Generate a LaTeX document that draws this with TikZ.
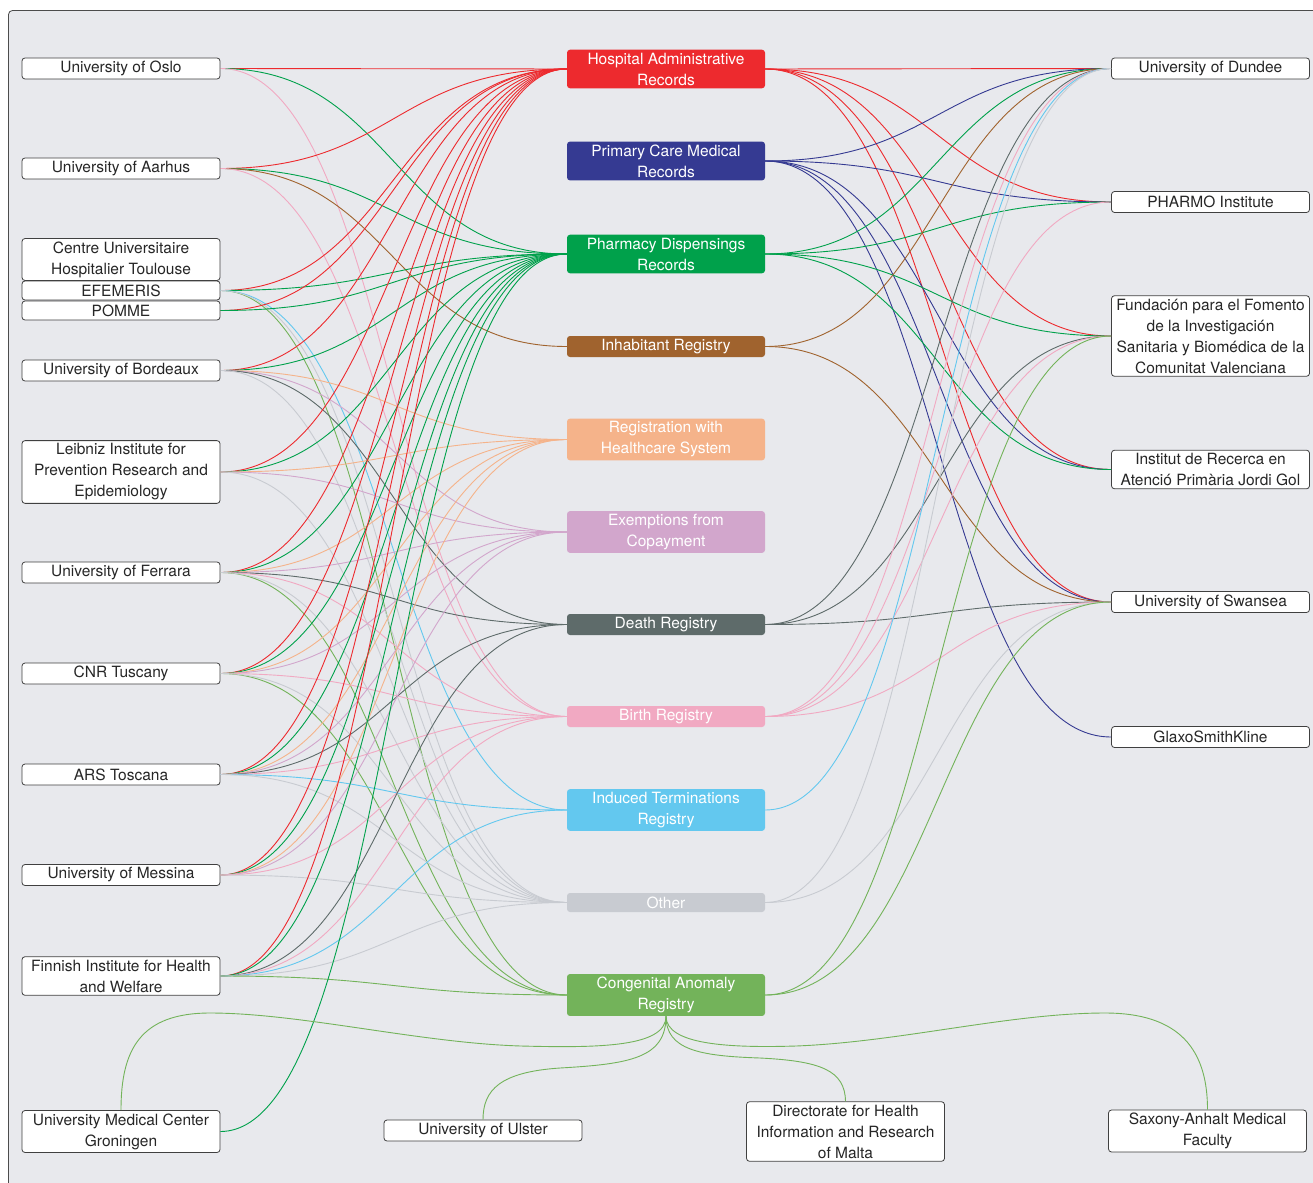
\documentclass[tikz,border=0pt]{standalone}
\usepackage{fontspec}
\setmainfont{TeX Gyre Heros}
\definecolor{bg}{RGB}{232,233,237}
\definecolor{hosp}{RGB}{237,42,46}
\definecolor{prim}{RGB}{53,58,146}
\definecolor{pharm}{RGB}{0,161,75}
\definecolor{inhab}{RGB}{160,99,46}
\definecolor{regis}{RGB}{245,179,138}
\definecolor{exempt}{RGB}{210,166,204}
\definecolor{death}{RGB}{94,107,106}
\definecolor{birth}{RGB}{241,169,194}
\definecolor{induced}{RGB}{99,200,239}
\definecolor{other}{RGB}{200,203,209}
\definecolor{cong}{RGB}{115,179,90}

\begin{document}
\begin{tikzpicture}[x=1pt,y=-1pt,
    inst/.style={draw=black!75,fill=white,rounded corners=3pt,line width=0.8pt,
      minimum width=198pt,minimum height=21pt,inner xsep=1.5pt,inner ysep=3pt,
      align=center,text=black!85,font=\fontsize{15.5}{21}\selectfont},
    src/.style={fill=#1,rounded corners=3pt,minimum width=198pt,minimum height=21pt,
      inner xsep=1.5pt,inner ysep=3pt,align=center,text=white,
      font=\fontsize{15.5}{21}\selectfont},
    link/.style={line width=0.9pt}]
    \clip (0,0) rectangle (1313,1182);
    \fill[white] (0,0) rectangle (1313,1182);
    \draw[black!70,fill=bg,rounded corners=4pt,line width=0.8pt] (8.5,10.5) rectangle (1340,1210);
    % left column
    \node[inst] (oslo) at (121,68.5) {University of Oslo};
    \node[inst] (aarhus) at (121,168.5) {University of Aarhus};
    \node[inst] (toul) at (121,259.5) {Centre Universitaire\\Hospitalier Toulouse};
    \node[inst,minimum height=19pt,inner ysep=0pt] (efem) at (121,290.5) {EFEMERIS};
    \node[inst,minimum height=19pt,inner ysep=0pt] (pomme) at (121,310.5) {POMME};
    \node[inst] (bord) at (121,370.5) {University of Bordeaux};
    \node[inst] (leib) at (121,472) {Leibniz Institute for\\Prevention Research and\\Epidemiology};
    \node[inst] (ferr) at (121,572.5) {University of Ferrara};
    \node[inst] (cnr) at (121,673.5) {CNR Tuscany};
    \node[inst] (ars) at (121,774.5) {ARS Toscana};
    \node[inst] (mess) at (121,875) {University of Messina};
    \node[inst] (finn) at (121,976) {Finnish Institute for Health\\and Welfare};
    \node[inst] (gron) at (121,1131.5) {University Medical Center\\Groningen};
    % middle column
    \node[src=hosp] (hosp) at (666,69) {Hospital Administrative\\Records};
    \node[src=prim] (prim) at (666,161) {Primary Care Medical\\Records};
    \node[src=pharm] (pharm) at (666,254) {Pharmacy Dispensings\\Records};
    \node[src=inhab] (inhab) at (666,346.5) {Inhabitant Registry};
    \node[src=regis] (regis) at (666,439.5) {Registration with\\Healthcare System};
    \node[src=exempt] (exempt) at (666,532) {Exemptions from\\Copayment};
    \node[src=death] (death) at (666,624.5) {Death Registry};
    \node[src=birth] (birth) at (666,716.5) {Birth Registry};
    \node[src=induced] (induced) at (666,810) {Induced Terminations\\Registry};
    \node[src=other,minimum height=19pt,inner ysep=0pt] (other) at (666,902.5) {Other};
    \node[src=cong] (cong) at (666,995) {Congenital Anomaly\\Registry};
    % right column
    \node[inst] (dundee) at (1210.5,68.5) {University of Dundee};
    \node[inst] (pharmo) at (1210.5,202) {PHARMO Institute};
    \node[inst] (fund) at (1210.5,336) {Fundación para el Fomento\\de la Investigación\\Sanitaria y Biomédica de la\\Comunitat Valenciana};
    \node[inst] (jordi) at (1210.5,469.5) {Institut de Recerca en\\Atenció Primària Jordi Gol};
    \node[inst] (swan) at (1210.5,602) {University of Swansea};
    \node[inst] (gsk) at (1210.5,737) {GlaxoSmithKline};
    % bottom row
    \node[inst] (ulster) at (483,1130.5) {University of Ulster};
    \node[inst] (malta) at (845.5,1131.5) {Directorate for Health\\Information and Research\\of Malta};
    \node[inst] (saxony) at (1207.5,1131) {Saxony-Anhalt Medical\\Faculty};
    % links from the institutions
    \foreach \a/\b in {oslo/hosp,oslo/pharm,oslo/birth,
        aarhus/hosp,aarhus/pharm,aarhus/inhab,aarhus/birth,
        efem/hosp,efem/pharm,efem/cong,efem/induced,efem/other,
        pomme/hosp,pomme/pharm,
        bord/hosp,bord/pharm,bord/regis,bord/exempt,bord/death,bord/other,
        leib/hosp,leib/pharm,leib/regis,leib/exempt,leib/other,
        ferr/hosp,ferr/pharm,ferr/regis,ferr/exempt,ferr/death,ferr/birth,ferr/cong,ferr/other,
        cnr/hosp,cnr/pharm,cnr/regis,cnr/exempt,cnr/birth,cnr/cong,cnr/other,
        ars/hosp,ars/pharm,ars/regis,ars/exempt,ars/death,ars/birth,ars/induced,ars/other,
        mess/hosp,mess/pharm,mess/regis,mess/exempt,mess/birth,mess/other,
        finn/hosp,finn/pharm,finn/death,finn/birth,finn/induced,finn/other,finn/cong,
        gron/pharm}
      \draw[link,draw=\b] (\a.east) .. controls +(173,0) and +(-173,0) .. (\b.west);
    % links to the institutions
    \foreach \a/\b in {hosp/dundee,hosp/pharmo,hosp/fund,hosp/jordi,hosp/swan,
        prim/dundee,prim/pharmo,prim/jordi,prim/swan,prim/gsk,
        pharm/dundee,pharm/pharmo,pharm/fund,pharm/jordi,
        inhab/dundee,inhab/swan,
        death/dundee,death/fund,death/swan,
        birth/dundee,birth/pharmo,birth/fund,birth/swan,
        induced/dundee,
        other/dundee,other/swan,
        cong/fund,cong/swan}
      \draw[link,draw=\a] (\a.east) .. controls +(173,0) and +(-173,0) .. (\b.west);
    % congenital anomaly registry down to the bottom row
    \draw[link,draw=cong] (cong.south) .. controls (666,1047) and (600,1048) .. (521,1046)
      .. controls (420,1043) and (300,1013) .. (210,1013) .. controls (140,1013) and (121,1050) .. (gron.north);
    \draw[link,draw=cong] (cong.south) .. controls (666,1058) and (630,1064) .. (560,1068)
      .. controls (500,1072) and (483,1090) .. (ulster.north);
    \draw[link,draw=cong] (cong.south) .. controls (666,1050) and (700,1056) .. (760,1058)
      .. controls (820,1061) and (845,1070) .. (malta.north);
    \draw[link,draw=cong] (cong.south) .. controls (666,1045) and (730,1048) .. (796,1046)
      .. controls (900,1042) and (1010,1013) .. (1105,1013) .. controls (1180,1013) and (1207.5,1050) .. (saxony.north);
\end{tikzpicture}
\end{document}
